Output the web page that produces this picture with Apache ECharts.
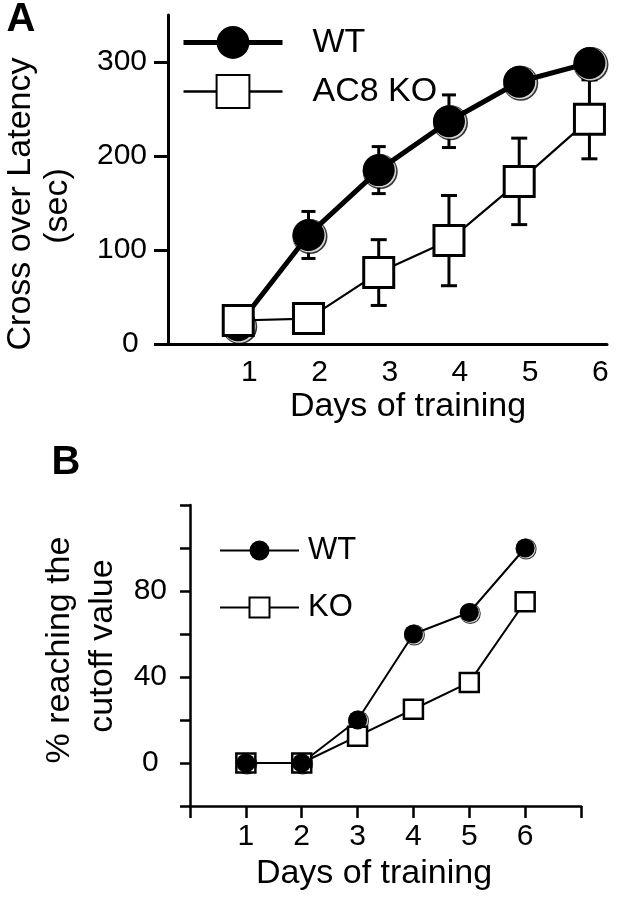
<!DOCTYPE html>
<html>
<head>
<meta charset="utf-8">
<script src="https://cdn.jsdelivr.net/npm/echarts@6/dist/echarts.min.js"></script>
<style>
html, body { margin: 0; padding: 0; background: #fff; }
#main { width: 617px; height: 899px; }
</style>
</head>
<body>
<div id="main"></div>
<script>
// days of training
var days = [1, 2, 3, 4, 5, 6];
// panel A: cross over latency (sec), mean and SEM
var wtLatency = [20, 116, 185, 237, 279, 299];
var wtLatencySem = [6, 25, 25, 28, 10, 10];
var koLatency = [25, 27, 76, 110, 173, 239];
var koLatencySem = [8, 8, 35, 48, 46, 42];
var latencyTicks = [0, 100, 200, 300];
// panel B: % reaching the cutoff value
var wtPercent = [0, 0, 20, 60, 70, 100];
var koPercent = [0, 0, 12.5, 25, 37.5, 75];
var percentTicks = [-20, 0, 20, 40, 60, 80, 100, 120];
var percentLabels = [0, 40, 80];

var fam = '"Liberation Sans", Arial, Helvetica, sans-serif';

function pairs(xs, ys) {
    return xs.map(function (x, i) { return [x, ys[i]]; });
}
function triples(xs, ys, es) {
    return xs.map(function (x, i) { return [x, ys[i], es[i]]; });
}

// vertical error bar with caps
function errorBars(capHalf) {
    return function (params, api) {
        var x = api.value(0), y = api.value(1), e = api.value(2);
        var hi = api.coord([x, y + e]);
        var lo = api.coord([x, y - e]);
        var st = { stroke: '#000', lineWidth: 3 };
        return {
            type: 'group',
            children: [
                { type: 'line', shape: { x1: hi[0], y1: hi[1], x2: lo[0], y2: lo[1] }, style: st },
                { type: 'line', shape: { x1: hi[0] - capHalf, y1: hi[1], x2: hi[0] + capHalf, y2: hi[1] }, style: st },
                { type: 'line', shape: { x1: lo[0] - capHalf, y1: lo[1], x2: lo[0] + capHalf, y2: lo[1] }, style: st }
            ]
        };
    };
}

function label(v) { return v === 0 ? '0 ' : String(v); }

var myChart = echarts.init(document.getElementById('main'));

var option = {
    animation: false,
    backgroundColor: '#fff',
    grid: [
        { left: 168, top: 15, width: 439, height: 329 },
        { left: 190, top: 505, width: 391, height: 301 }
    ],
    xAxis: [{
        gridIndex: 0, type: 'value', min: 0, max: 6.25, interval: 1,
        axisLine: { onZero: false, lineStyle: { color: '#000', width: 3 } },
        axisTick: { show: false },
        splitLine: { show: false },
        axisLabel: { customValues: days, color: '#000', fontSize: 30, fontFamily: fam, margin: 14, padding: [0, 0, 0, 22] }
    }, {
        gridIndex: 1, type: 'value', min: 0, max: 7, interval: 1,
        axisLine: { onZero: false, lineStyle: { color: '#000', width: 2.5 } },
        axisTick: { show: true, length: 12, lineStyle: { color: '#000', width: 2.5 } },
        splitLine: { show: false },
        axisLabel: { customValues: days, color: '#000', fontSize: 30, fontFamily: fam, margin: 16 }
    }],
    yAxis: [{
        gridIndex: 0, type: 'value', min: 0, max: 350, interval: 100,
        axisLine: { show: true, onZero: false, lineStyle: { color: '#000', width: 3 } },
        axisTick: { show: true, length: 14, customValues: latencyTicks, lineStyle: { color: '#000', width: 3 } },
        splitLine: { show: false },
        axisLabel: { customValues: latencyTicks, formatter: label, color: '#000', fontSize: 30, fontFamily: fam, margin: 21 }
    }, {
        gridIndex: 1, type: 'value', min: -20, max: 120, interval: 20,
        axisLine: { show: true, onZero: false, lineStyle: { color: '#000', width: 2.5 } },
        axisTick: { show: true, length: 10, customValues: percentTicks, lineStyle: { color: '#000', width: 2.5 } },
        splitLine: { show: false },
        axisLabel: { customValues: percentLabels, formatter: label, color: '#000', fontSize: 30, fontFamily: fam, margin: 23 }
    }],
    legend: [{
        data: [{ name: 'WT', lineStyle: { width: 5 } }, { name: 'AC8 KO', lineStyle: { width: 2.5 } }],
        orient: 'vertical', left: 176, top: 17,
        itemWidth: 99, itemHeight: 41, itemGap: 8,
        selectedMode: false,
        textStyle: { color: '#000', fontSize: 34, fontFamily: fam, lineHeight: 41, padding: [0, 0, 0, 25] }
    }, {
        data: [{ name: 'WT', lineStyle: { width: 2 } }, { name: 'KO', lineStyle: { width: 2 } }],
        orient: 'vertical', left: 214, top: 530,
        itemWidth: 79, itemHeight: 25, itemGap: 26,
        selectedMode: false,
        textStyle: { color: '#000', fontSize: 31, fontFamily: fam, lineHeight: 25, padding: [0, 0, 0, 4] }
    }],
    graphic: [
        { type: 'text', x: 21, y: 20, style: { text: 'A', font: 'bold 40px ' + fam, fill: '#000', align: 'center', verticalAlign: 'middle', textAlign: 'center', textVerticalAlign: 'middle' } },
        { type: 'text', x: 66, y: 463, style: { text: 'B', font: 'bold 40px ' + fam, fill: '#000', align: 'center', verticalAlign: 'middle', textAlign: 'center', textVerticalAlign: 'middle' } },
        { type: 'text', x: 21, y: 204, rotation: Math.PI / 2, style: { text: 'Cross over Latency', font: '34px ' + fam, fill: '#000', align: 'center', verticalAlign: 'middle', textAlign: 'center', textVerticalAlign: 'middle' } },
        { type: 'text', x: 58, y: 206, rotation: Math.PI / 2, style: { text: '(sec)', font: '34px ' + fam, fill: '#000', align: 'center', verticalAlign: 'middle', textAlign: 'center', textVerticalAlign: 'middle' } },
        { type: 'text', x: 408, y: 407, style: { text: 'Days of training', font: '34px ' + fam, fill: '#000', align: 'center', verticalAlign: 'middle', textAlign: 'center', textVerticalAlign: 'middle' } },
        { type: 'text', x: 60, y: 650, rotation: Math.PI / 2, style: { text: '% reaching the', font: '34px ' + fam, fill: '#000', align: 'center', verticalAlign: 'middle', textAlign: 'center', textVerticalAlign: 'middle' } },
        { type: 'text', x: 103, y: 646, rotation: Math.PI / 2, style: { text: 'cutoff value', font: '34px ' + fam, fill: '#000', align: 'center', verticalAlign: 'middle', textAlign: 'center', textVerticalAlign: 'middle' } },
        { type: 'text', x: 374, y: 874, style: { text: 'Days of training', font: '34px ' + fam, fill: '#000', align: 'center', verticalAlign: 'middle', textAlign: 'center', textVerticalAlign: 'middle' } }
    ],
    series: [
        // ---- panel A ----
        {
            name: 'errWT_A', type: 'custom', xAxisIndex: 0, yAxisIndex: 0,
            encode: { x: 0, y: 1 }, silent: true,
            renderItem: errorBars(7),
            data: triples(days, wtLatency, wtLatencySem)
        },
        {
            name: 'errKO_A', type: 'custom', xAxisIndex: 0, yAxisIndex: 0,
            encode: { x: 0, y: 1 }, silent: true,
            renderItem: errorBars(8),
            data: triples(days, koLatency, koLatencySem)
        },
        {
            name: 'shadeA1', type: 'scatter', xAxisIndex: 0, yAxisIndex: 0, silent: true,
            symbol: 'circle', symbolSize: 35, symbolOffset: [1.5, 1.5],
            itemStyle: { color: '#000' },
            data: pairs(days, wtLatency)
        },
        {
            name: 'shadeA2', type: 'scatter', xAxisIndex: 0, yAxisIndex: 0, silent: true,
            symbol: 'circle', symbolSize: 33, symbolOffset: [1, 1],
            itemStyle: { color: '#fff' },
            data: pairs(days, wtLatency)
        },
        {
            name: 'WT', type: 'line', xAxisIndex: 0, yAxisIndex: 0,
            symbol: 'circle', symbolSize: 32, showSymbol: true,
            itemStyle: { color: '#000' },
            lineStyle: { color: '#000', width: 5 },
            data: pairs(days, wtLatency)
        },
        {
            name: 'AC8 KO', type: 'line', xAxisIndex: 0, yAxisIndex: 0,
            symbol: 'rect', symbolSize: 30, showSymbol: true,
            itemStyle: { color: '#fff', borderColor: '#000', borderWidth: 3 },
            lineStyle: { color: '#000', width: 2.2 },
            data: pairs(days, koLatency)
        },
        // ---- panel B ----
        {
            name: 'KO', type: 'line', xAxisIndex: 1, yAxisIndex: 1,
            symbol: 'rect', symbolSize: 19, showSymbol: true,
            itemStyle: { color: '#fff', borderColor: '#000', borderWidth: 2.5 },
            lineStyle: { color: '#000', width: 2 },
            data: pairs(days, koPercent)
        },
        {
            name: 'shadeB1', type: 'scatter', xAxisIndex: 1, yAxisIndex: 1, silent: true,
            symbol: 'circle', symbolSize: 21, symbolOffset: [1, 1],
            itemStyle: { color: '#000' },
            data: pairs(days, wtPercent)
        },
        {
            name: 'shadeB2', type: 'scatter', xAxisIndex: 1, yAxisIndex: 1, silent: true,
            symbol: 'circle', symbolSize: 19.5, symbolOffset: [0.8, 0.8],
            itemStyle: { color: '#fff' },
            data: pairs(days, wtPercent)
        },
        {
            name: 'WT', type: 'line', xAxisIndex: 1, yAxisIndex: 1,
            symbol: 'circle', symbolSize: 19, showSymbol: true,
            itemStyle: { color: '#000' },
            lineStyle: { color: '#000', width: 2 },
            data: pairs(days, wtPercent)
        }
    ]
};

myChart.setOption(option);
</script>
</body>
</html>
